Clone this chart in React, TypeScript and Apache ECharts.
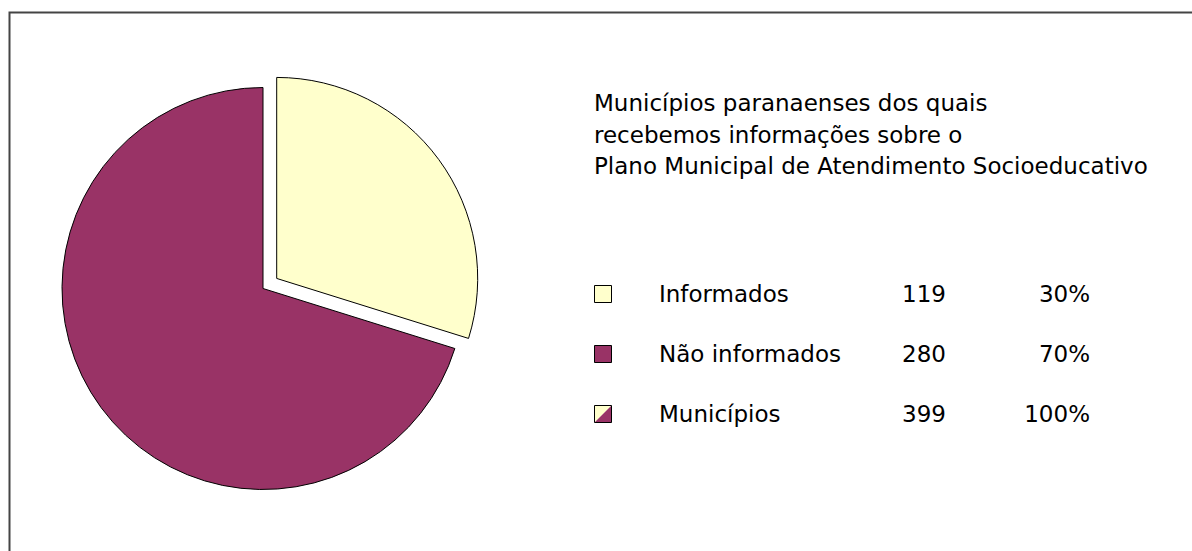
import React, { useEffect, useRef } from "react";
import * as echarts from "echarts";

const categories = ["Informados", "Não informados"];
const values = [119, 280];
const colors = ["#FFFFCC", "#993366"];
const totalLabel = "Municípios";
const titleLines = [
  "Municípios paranaenses dos quais",
  "recebemos informações sobre o",
  "Plano Municipal de Atendimento Socioeducativo",
];

const FAMILY = "DejaVu Sans";
const FS = 23;

export default function App() {
  const ref = useRef<HTMLDivElement>(null);
  useEffect(() => {
    if (!ref.current) return;
    const chart = echarts.init(ref.current, null, { renderer: "svg" });
    const total = values.reduce((a, b) => a + b, 0);
    const rows = [
      ...categories.map((c, i) => ({
        name: c,
        count: String(values[i]),
        pct: Math.round((values[i] / total) * 100) + "%",
        kind: i,
      })),
      { name: totalLabel, count: String(total), pct: "100%", kind: 2 },
    ];
    const txt = (extra: any) => ({
      fontSize: FS,
      fontFamily: FAMILY,
      fill: "#000",
      verticalAlign: "middle",
      ...extra,
    });
    const graphics: any[] = [
      {
        type: "rect",
        shape: { x: 9.5, y: 12.5, width: 1300, height: 700 },
        style: { fill: "none", stroke: "#444", lineWidth: 2 },
        silent: true,
        z: 0,
      },
    ];
    titleLines.forEach((t, i) => {
      graphics.push({
        type: "text",
        x: 594,
        y: 103 + i * 31.5,
        style: txt({ text: t, align: "left" }),
      });
    });
    rows.forEach((r, i) => {
      const cy = 294 + i * 60;
      const bx = 594.5,
        by = cy - 8.5,
        s = 17;
      if (r.kind < 2) {
        graphics.push({
          type: "rect",
          shape: { x: bx, y: by, width: s, height: s },
          style: { fill: colors[r.kind], stroke: "#000", lineWidth: 1 },
        });
      } else {
        graphics.push({
          type: "polygon",
          shape: { points: [[bx, by], [bx + s, by], [bx, by + s]] },
          style: { fill: colors[0], stroke: "none" },
        });
        graphics.push({
          type: "polygon",
          shape: { points: [[bx + s, by], [bx + s, by + s], [bx, by + s]] },
          style: { fill: colors[1], stroke: "none" },
        });
        graphics.push({
          type: "rect",
          shape: { x: bx, y: by, width: s, height: s },
          style: { fill: "none", stroke: "#000", lineWidth: 1 },
        });
      }
      graphics.push({ type: "text", x: 659, y: cy, style: txt({ text: r.name, align: "left" }) });
      graphics.push({ type: "text", x: 946, y: cy, style: txt({ text: r.count, align: "right" }) });
      graphics.push({ type: "text", x: 1090, y: cy, style: txt({ text: r.pct, align: "right" }) });
    });

    chart.setOption({
      animation: false,
      backgroundColor: "#fff",
      graphic: graphics,
      series: [
        {
          type: "pie",
          center: [263, 288.5],
          radius: [0, 201],
          startAngle: 90,
          clockwise: true,
          selectedMode: "single",
          selectedOffset: 17,
          label: { show: false },
          labelLine: { show: false },
          emphasis: { disabled: true },
          itemStyle: { borderColor: "#000", borderWidth: 1 },
          data: categories.map((c, i) => ({
            name: c,
            value: values[i],
            selected: i === 0,
            itemStyle: { color: colors[i] },
          })),
        },
      ],
    });
    return () => chart.dispose();
  }, []);
  return (
    <div
      ref={ref}
      style={{ position: "absolute", left: 0, top: 0, width: 1192, height: 551 }}
    />
  );
}
